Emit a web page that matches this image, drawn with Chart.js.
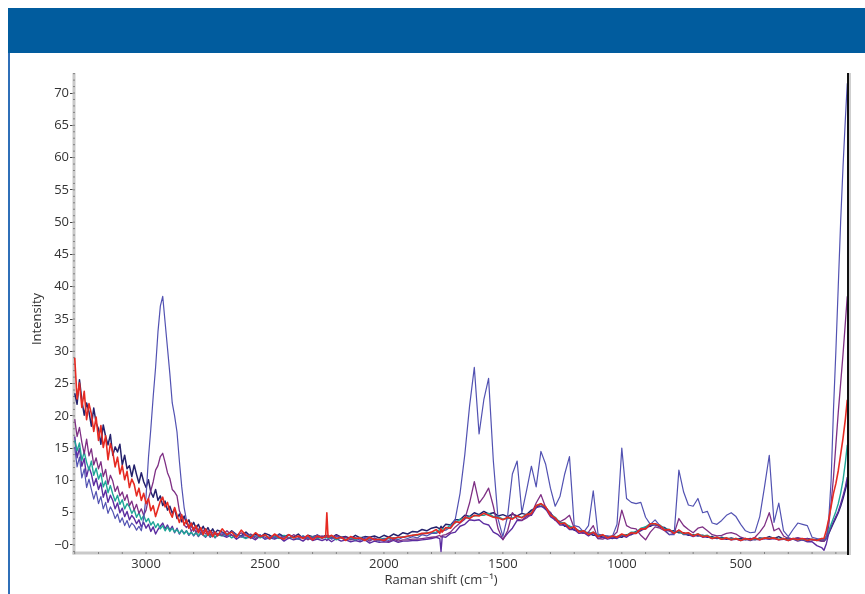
<!DOCTYPE html>
<html>
<head>
<meta charset="utf-8">
<script src="https://cdn.jsdelivr.net/npm/chart.js@4.4.1/dist/chart.umd.min.js"></script>
<style>
  html, body { margin: 0; padding: 0; background: #ffffff; }
  #wrap { position: relative; width: 865px; height: 594px; overflow: hidden; background: #ffffff; }
  #banner { position: absolute; left: 8px; top: 8px; width: 857px; height: 45px; background: #015c9e; }
  #edge { position: absolute; left: 8px; top: 53px; width: 1.5px; height: 541px; background: #2f6fb8; }
  canvas { position: absolute; left: 0; top: 0; }
</style>
</head>
<body>
<div id="wrap">
  <canvas id="spectra" width="865" height="594"></canvas>
  <div id="banner"></div>
  <div id="edge"></div>
</div>
<script>
// Raman shift positions (cm-1) shared by every spectrum
const shiftCm = [
  3300,3290,3280,3270,3260,3250,3240,3230,3220,3210,
  3200,3190,3180,3170,3160,3150,3140,3130,3120,3110,
  3100,3090,3080,3070,3060,3050,3040,3030,3020,3010,
  3000,2990,2980,2970,2960,2950,2940,2930,2920,2910,
  2900,2890,2880,2870,2860,2850,2840,2830,2820,2810,
  2800,2790,2780,2770,2760,2750,2740,2730,2720,2710,
  2700,
  2680,2660,2640,2620,2600,2580,2560,2540,2520,2500,
  2480,2460,2440,2420,2400,2380,2360,2340,2320,2300,
  2280,2260,2245,2240,2235,2220,2200,2180,2160,2140,
  2120,2100,2080,2060,2040,2020,2000,1980,1960,1940,
  1920,1900,1880,1860,1840,1820,1800,
  1780,1765,1760,1755,1740,1720,1700,1680,1660,1640,
  1620,1600,1580,1560,1540,1520,1500,1480,1460,1440,
  1420,1400,1380,1360,1340,1320,1300,1280,1260,1240,
  1220,1200,1180,1160,1140,1120,1100,1080,1060,1040,
  1020,1000,980,960,940,920,900,880,860,840,
  820,800,780,760,740,720,700,680,660,640,
  620,600,580,560,540,520,500,480,460,440,
  420,400,380,360,340,320,300,280,260,240,
  220,200,180,160,
  150,140,130,120,110,100,90,80,70,60,52
];

// Intensity of each spectrum at the shifts above
const seriesSlate = [
  15.2,12.1,13.6,10.4,11.8,8.9,10.2,8.6,7.1,8.3,
  6.4,7.5,5.6,6.6,4.9,5.9,5.2,4.1,4.8,3.5,
  4.2,3.0,3.8,2.7,3.4,3.0,2.3,2.9,2.2,4.2,
  7.5,13.5,18.0,23.0,27.5,33.0,37.0,38.5,34.5,30.5,
  26.5,22.0,20.0,17.5,13.0,9.0,5.8,3.8,2.6,3.0,
  2.1,2.7,1.9,2.4,1.7,2.3,1.6,2.1,1.4,1.9,
  1.5,
  1.9,1.3,2.1,1.6,1.2,1.8,1.0,1.4,1.6,0.9,
  1.3,1.1,1.6,1.0,1.5,1.2,0.9,1.4,1.1,1.0,
  1.6,1.0,1.4,1.2,1.4,0.9,1.3,1.1,0.8,1.2,
  1.1,0.7,1.2,0.9,0.8,0.6,1.0,0.7,1.1,0.8,
  1.2,1.0,1.3,1.1,1.6,1.4,1.8,
  1.8,2.1,2.0,2.2,2.3,2.8,4.0,8.0,14.0,21.5,
  27.5,17.2,22.5,25.8,13.0,4.0,1.3,4.5,11.0,13.0,
  5.0,8.5,12.2,9.0,14.5,12.5,8.8,6.0,7.5,11.0,
  13.7,3.0,2.8,2.0,3.0,8.4,1.7,1.5,1.4,1.3,
  3.2,15.0,7.2,6.6,6.4,6.6,4.3,3.2,3.9,3.0,
  2.4,1.6,1.6,11.6,8.2,6.2,6.0,7.2,5.0,5.2,
  3.4,3.2,3.8,4.6,5.0,4.4,3.2,2.2,1.9,2.0,
  4.4,9.0,13.9,3.5,6.5,2.2,1.3,2.4,3.4,3.2,
  3.0,1.2,1.0,0.9,
  0.8,1.0,4.0,10.0,21.0,30.0,40.0,50.0,58.5,66.0,71.5
];

const seriesPlum = [
  19.5,16.8,18.2,15.9,14.1,16.4,13.8,14.9,12.4,13.5,
  11.8,12.9,10.6,11.7,9.4,10.8,9.9,8.3,9.1,7.6,
  8.2,6.9,7.8,6.1,6.8,5.4,6.3,4.9,5.6,4.6,
  5.4,7.2,8.4,9.8,11.6,12.3,13.7,14.2,12.8,11.2,
  10.3,8.6,8.2,7.6,5.3,4.4,3.1,2.7,3.2,2.1,
  2.7,2.0,2.5,1.8,2.3,1.7,2.2,1.5,2.0,1.6,
  1.8,
  1.5,2.2,1.5,1.3,1.9,1.4,1.7,1.0,1.5,1.2,
  0.9,1.6,1.1,1.3,1.0,1.6,1.2,1.3,0.8,1.2,
  1.1,1.4,1.2,1.3,1.2,1.0,1.5,1.1,1.2,0.8,
  1.1,0.9,1.0,0.6,1.1,0.7,0.8,0.5,0.9,0.6,
  0.8,0.8,0.9,0.9,1.0,1.1,1.2,
  1.3,1.5,1.2,1.5,1.6,2.0,2.8,3.4,4.0,6.5,
  9.8,6.5,7.5,8.8,6.0,2.5,0.8,2.2,5.0,4.0,
  3.8,4.2,4.8,6.5,7.8,5.8,5.0,3.8,3.6,4.0,
  4.6,2.6,2.2,1.8,2.0,3.0,1.0,0.9,1.2,1.3,
  2.0,5.4,3.0,2.6,2.5,1.5,0.8,2.0,2.8,2.6,
  2.2,1.6,1.8,4.1,3.0,2.4,1.9,2.6,2.8,2.2,
  1.6,1.4,1.5,1.8,1.9,1.7,1.2,1.0,0.9,1.2,
  2.0,3.0,5.0,2.2,2.6,1.4,1.0,1.0,1.1,1.0,
  1.0,0.8,0.7,0.6,
  0.6,1.2,3.0,6.5,10.5,15.5,20.5,25.0,29.5,34.5,38.5
];

const seriesRed = [
  29.0,22.6,25.1,21.3,23.8,19.4,21.9,20.3,17.6,19.8,
  16.2,18.5,15.1,16.9,13.2,15.7,14.4,12.1,13.6,11.0,
  12.3,10.1,11.4,8.9,10.2,9.4,7.6,8.8,6.9,8.0,
  6.4,7.2,5.3,6.1,4.4,5.6,6.8,7.4,5.9,6.6,
  5.1,4.3,5.8,4.6,3.5,4.7,3.1,3.9,2.6,3.4,
  2.3,3.0,1.9,2.7,1.6,2.5,1.5,2.2,1.3,2.0,
  1.4,
  2.5,1.6,2.0,1.2,2.3,1.5,1.1,1.9,1.3,1.6,
  1.0,1.7,1.2,0.9,1.6,1.1,1.4,1.0,1.5,0.8,
  1.4,1.1,1.3,5.0,1.2,1.5,1.0,1.2,0.7,1.3,
  1.0,1.1,0.7,1.2,0.8,0.9,0.7,1.2,1.0,1.2,
  1.2,1.4,1.5,1.6,1.8,1.8,2.0,
  2.4,1.8,2.5,2.0,2.7,2.6,3.6,3.5,4.3,4.1,
  4.6,4.5,4.9,4.6,4.3,4.2,3.9,4.3,4.0,4.5,
  4.2,4.7,4.9,6.1,6.4,5.9,4.6,4.2,3.3,3.4,
  2.6,2.8,2.0,2.2,1.6,2.0,1.3,1.6,1.1,1.4,
  1.2,1.7,1.4,1.9,1.8,2.5,2.5,3.3,3.3,3.0,
  2.3,2.4,1.8,2.3,1.8,1.9,1.4,1.7,1.3,1.4,
  1.0,1.2,0.9,1.1,0.8,1.0,0.7,1.0,0.8,1.1,
  0.8,1.1,1.0,1.1,0.8,1.0,0.7,1.0,0.8,1.0,
  0.7,0.9,0.7,1.0,
  1.0,2.3,4.0,6.0,8.0,9.5,11.5,14.0,16.5,19.5,22.5
];

const seriesTeal = [
  16.2,14.6,15.8,13.1,14.4,12.8,11.6,13.0,10.8,11.9,
  10.2,11.1,9.0,9.9,8.1,9.2,7.9,6.8,7.7,6.3,
  7.0,5.6,6.4,5.9,4.9,5.5,4.3,5.0,3.9,4.6,
  3.6,4.1,3.1,3.6,2.7,3.3,2.5,3.0,2.2,2.8,
  2.1,2.6,2.0,2.4,1.8,2.3,1.7,2.2,1.6,2.0,
  1.5,2.0,1.4,1.9,1.6,1.3,1.8,1.3,1.7,1.2,
  1.6,
  1.4,1.8,1.1,1.6,1.3,1.0,1.6,1.3,1.1,1.5,
  1.0,1.3,1.0,1.5,1.1,1.2,0.9,1.4,1.0,1.3,
  1.0,1.2,1.1,1.2,1.0,1.3,0.8,1.2,0.9,1.0,
  0.8,1.2,0.7,1.0,0.9,0.9,1.0,1.0,1.1,1.1,
  1.3,1.3,1.5,1.5,1.7,1.9,1.9,
  2.0,2.4,2.1,2.5,2.5,3.1,3.4,4.0,4.1,4.4,
  4.5,4.6,4.6,4.9,4.4,4.4,4.0,4.1,4.2,4.4,
  4.3,4.7,5.0,6.1,6.3,5.9,4.8,4.3,3.5,3.4,
  2.9,2.7,2.2,2.2,1.8,2.0,1.5,1.5,1.2,1.4,
  1.3,1.6,1.5,2.0,2.0,2.6,2.8,3.3,3.2,3.1,
  2.5,2.4,2.0,2.1,1.7,1.8,1.5,1.7,1.4,1.5,
  1.1,1.2,1.0,1.1,0.9,1.0,0.8,1.0,0.8,1.0,
  0.9,1.1,1.0,1.1,0.9,1.0,0.8,1.0,0.8,0.9,
  0.7,0.9,0.7,0.9,
  0.9,1.4,2.2,3.2,4.2,5.2,6.4,8.0,10.0,12.8,15.5
];

const seriesNavy = [
  23.5,21.8,25.6,22.4,20.1,22.0,20.6,18.4,21.2,18.9,
  18.0,15.6,18.6,16.8,15.5,17.1,13.9,15.2,14.4,15.6,
  12.4,13.9,11.8,12.3,10.6,12.4,10.9,9.6,11.2,9.8,
  8.9,10.1,8.2,7.4,8.6,6.9,7.6,6.1,6.8,5.4,
  6.0,4.9,5.6,4.1,4.8,3.6,4.5,3.3,3.9,2.8,
  3.5,2.6,3.2,2.2,2.9,2.1,2.7,1.9,2.5,1.8,
  2.3,
  2.0,1.5,2.2,1.6,1.4,2.0,1.3,1.7,1.2,1.8,
  1.5,1.1,1.7,1.3,1.6,1.2,1.7,1.0,1.5,1.3,
  1.5,1.2,1.5,1.3,1.5,1.1,1.6,1.2,1.3,1.0,
  1.5,1.1,1.3,1.2,1.4,1.1,1.5,1.2,1.7,1.4,
  1.9,1.7,2.1,2.0,2.4,2.2,2.6,
  2.8,2.5,2.9,2.6,3.2,3.1,3.9,3.9,4.6,4.4,
  5.0,4.7,5.2,4.8,5.0,4.5,4.7,4.4,4.8,4.5,
  4.9,4.7,5.4,5.8,6.4,5.5,5.0,3.9,3.6,2.9,
  2.9,2.3,2.2,1.8,1.9,1.5,1.5,1.2,1.3,1.0,
  1.3,1.2,1.6,1.6,2.1,2.2,2.8,2.9,3.3,2.8,
  2.7,2.2,2.2,1.9,1.9,1.5,1.6,1.4,1.5,1.2,
  1.3,1.0,1.2,0.9,1.1,0.9,1.0,0.8,1.0,0.8,
  1.1,1.0,1.3,1.0,1.3,0.9,1.1,0.9,1.1,0.8,
  1.0,0.8,0.9,0.6,
  0.6,1.0,1.8,2.6,3.4,4.2,5.0,6.0,7.2,8.6,9.8
];

const seriesViolet = [
  16.8,13.5,15.0,12.2,13.4,10.6,12.1,11.0,9.2,10.3,
  8.6,9.6,7.4,8.5,6.6,7.7,6.9,5.6,6.5,5.0,
  5.7,4.4,5.2,3.9,4.6,4.1,3.3,3.9,2.8,3.5,
  2.6,3.2,2.1,2.8,1.7,2.4,2.9,3.4,2.5,3.1,
  2.3,2.9,1.9,2.6,1.7,2.3,1.8,2.2,1.5,2.0,
  1.4,1.9,1.3,1.8,1.5,1.2,1.7,1.2,1.6,1.1,
  1.5,
  1.5,1.2,1.6,0.9,1.4,1.1,1.2,0.8,1.4,0.9,
  1.1,0.9,1.2,0.6,1.1,0.8,1.0,0.6,1.2,0.7,
  0.9,0.7,0.9,0.7,0.9,0.5,1.0,0.6,0.8,0.5,
  0.7,0.5,0.8,0.3,0.6,0.4,0.5,0.4,0.7,0.4,
  0.6,0.6,0.7,0.7,0.8,0.9,1.0,
  1.2,1.0,-1.0,1.3,1.2,1.8,2.0,2.9,3.2,3.9,
  3.8,3.9,3.3,3.1,2.0,1.6,0.9,1.8,2.6,3.8,
  3.8,4.5,4.6,5.8,6.0,5.6,4.4,3.9,3.1,3.1,
  2.4,2.4,1.8,1.9,1.4,1.9,1.0,1.2,0.9,1.1,
  1.0,1.5,1.2,1.7,1.8,2.3,2.5,3.1,3.1,2.9,
  2.3,2.2,1.8,2.3,1.6,1.6,1.3,1.6,1.2,1.3,
  1.0,1.1,0.9,1.0,0.8,0.9,0.7,0.9,0.7,0.9,
  0.8,1.0,0.9,1.0,0.8,0.9,0.7,0.9,0.6,0.8,
  0.5,0.5,-0.1,-0.4,
  -0.8,0.2,1.8,2.8,3.6,4.4,5.2,6.3,7.6,9.0,10.5
];

// Axis labelling
const shiftTicks = [3000, 2500, 2000, 1500, 1000, 500];
const intensityTicks = [0, 5, 10, 15, 20, 25, 30, 35, 40, 45, 50, 55, 60, 65, 70];
const xTitle = 'Raman shift (cm\u207B\u00B9)';
const yTitle = 'Intensity';

const spectra = [
  { label: 'Spectrum 1', values: seriesRed,    color: '#e62a22', width: 1.6, order: 1 },
  { label: 'Spectrum 2', values: seriesSlate,  color: '#5252b2', width: 1.2, order: 2 },
  { label: 'Spectrum 3', values: seriesPlum,   color: '#7e2f84', width: 1.3, order: 3 },
  { label: 'Spectrum 4', values: seriesTeal,   color: '#1fa697', width: 1.4, order: 4 },
  { label: 'Spectrum 5', values: seriesViolet, color: '#5b2ca0', width: 1.4, order: 5 },
  { label: 'Spectrum 6', values: seriesNavy,   color: '#24216c', width: 1.5, order: 6 }
];

spectra.forEach(s => {
  if (s.values.length !== shiftCm.length) {
    throw new Error(s.label + ' has ' + s.values.length + ' values, expected ' + shiftCm.length);
  }
});

const FONT = '"Open Sans", "DejaVu Sans", sans-serif';
const TEXT = '#333333';

// Grey axis rails with minor tick dots, dark right frame and axis titles
const axisDecor = {
  id: 'axisDecor',
  beforeDatasetsDraw(chart) {
    const { ctx, chartArea: a, scales } = chart;
    const xs = scales.x, ys = scales.y;
    ctx.save();
    ctx.fillStyle = '#c9c9c9';
    ctx.fillRect(a.left - 1.5, a.top, 3, a.bottom - a.top + 1.5);
    ctx.fillRect(a.left - 1.5, a.bottom - 1.5, a.right - a.left + 1.5, 3);
    ctx.fillStyle = '#555555';
    for (let v = Math.ceil(ys.min); v <= ys.max; v++) {
      const py = ys.getPixelForValue(v);
      ctx.fillRect(a.left - 0.6, py - 0.5, 1.2, 1);
    }
    for (let v = 100; v <= xs.max; v += 100) {
      const px = xs.getPixelForValue(v);
      ctx.fillRect(px - 0.5, a.bottom - 0.6, 1, 1.2);
    }
    ctx.restore();
  },
  afterDraw(chart) {
    const { ctx, chartArea: a } = chart;
    ctx.save();
    ctx.fillStyle = '#cfcfcf';
    ctx.fillRect(a.right + 1, a.top, 2, a.bottom - a.top + 2);
    ctx.fillStyle = '#111111';
    ctx.fillRect(a.right - 1, a.top, 2, a.bottom - a.top + 2);
    ctx.fillStyle = TEXT;
    ctx.font = '13px ' + FONT;
    ctx.textAlign = 'center';
    ctx.textBaseline = 'middle';
    ctx.fillText(xTitle, 441, 580);
    ctx.translate(37, 319);
    ctx.rotate(-Math.PI / 2);
    ctx.fillText(yTitle, 0, 0);
    ctx.restore();
  }
};

new Chart(document.getElementById('spectra'), {
  type: 'line',
  data: {
    datasets: spectra.map(s => ({
      label: s.label,
      data: shiftCm.map((x, i) => ({ x: x, y: s.values[i] })),
      borderColor: s.color,
      borderWidth: s.width,
      borderJoinStyle: 'round',
      pointRadius: 0,
      tension: 0,
      fill: false,
      order: s.order
    }))
  },
  options: {
    responsive: false,
    animation: false,
    events: [],
    layout: { padding: { top: 73, right: 17, left: 0, bottom: 0 } },
    plugins: { legend: { display: false }, tooltip: { enabled: false } },
    scales: {
      x: {
        type: 'linear',
        reverse: true,
        min: 49,
        max: 3303,
        afterBuildTicks: s => { s.ticks = shiftTicks.map(v => ({ value: v })); },
        afterFit: s => { s.height = 41; },
        border: { display: false },
        grid: { display: true, drawOnChartArea: false, drawTicks: false },
        ticks: {
          autoSkip: false, maxRotation: 0, padding: 3,
          color: TEXT, font: { family: FONT, size: 13 },
          callback: v => String(v)
        },
        title: { display: false }
      },
      y: {
        type: 'linear',
        min: -1.24,
        max: 73.1,
        afterBuildTicks: s => { s.ticks = intensityTicks.map(v => ({ value: v })); },
        afterFit: s => { s.width = 74; },
        border: { display: false },
        grid: { display: true, drawOnChartArea: false, drawTicks: true, tickLength: 4, color: '#444444', lineWidth: 1 },
        ticks: {
          autoSkip: false, padding: 1,
          color: TEXT, font: { family: FONT, size: 13 },
          callback: v => (v === 0 ? '\u22120' : String(v))
        },
        title: { display: false }
      }
    }
  },
  plugins: [axisDecor]
});
</script>
</body>
</html>
